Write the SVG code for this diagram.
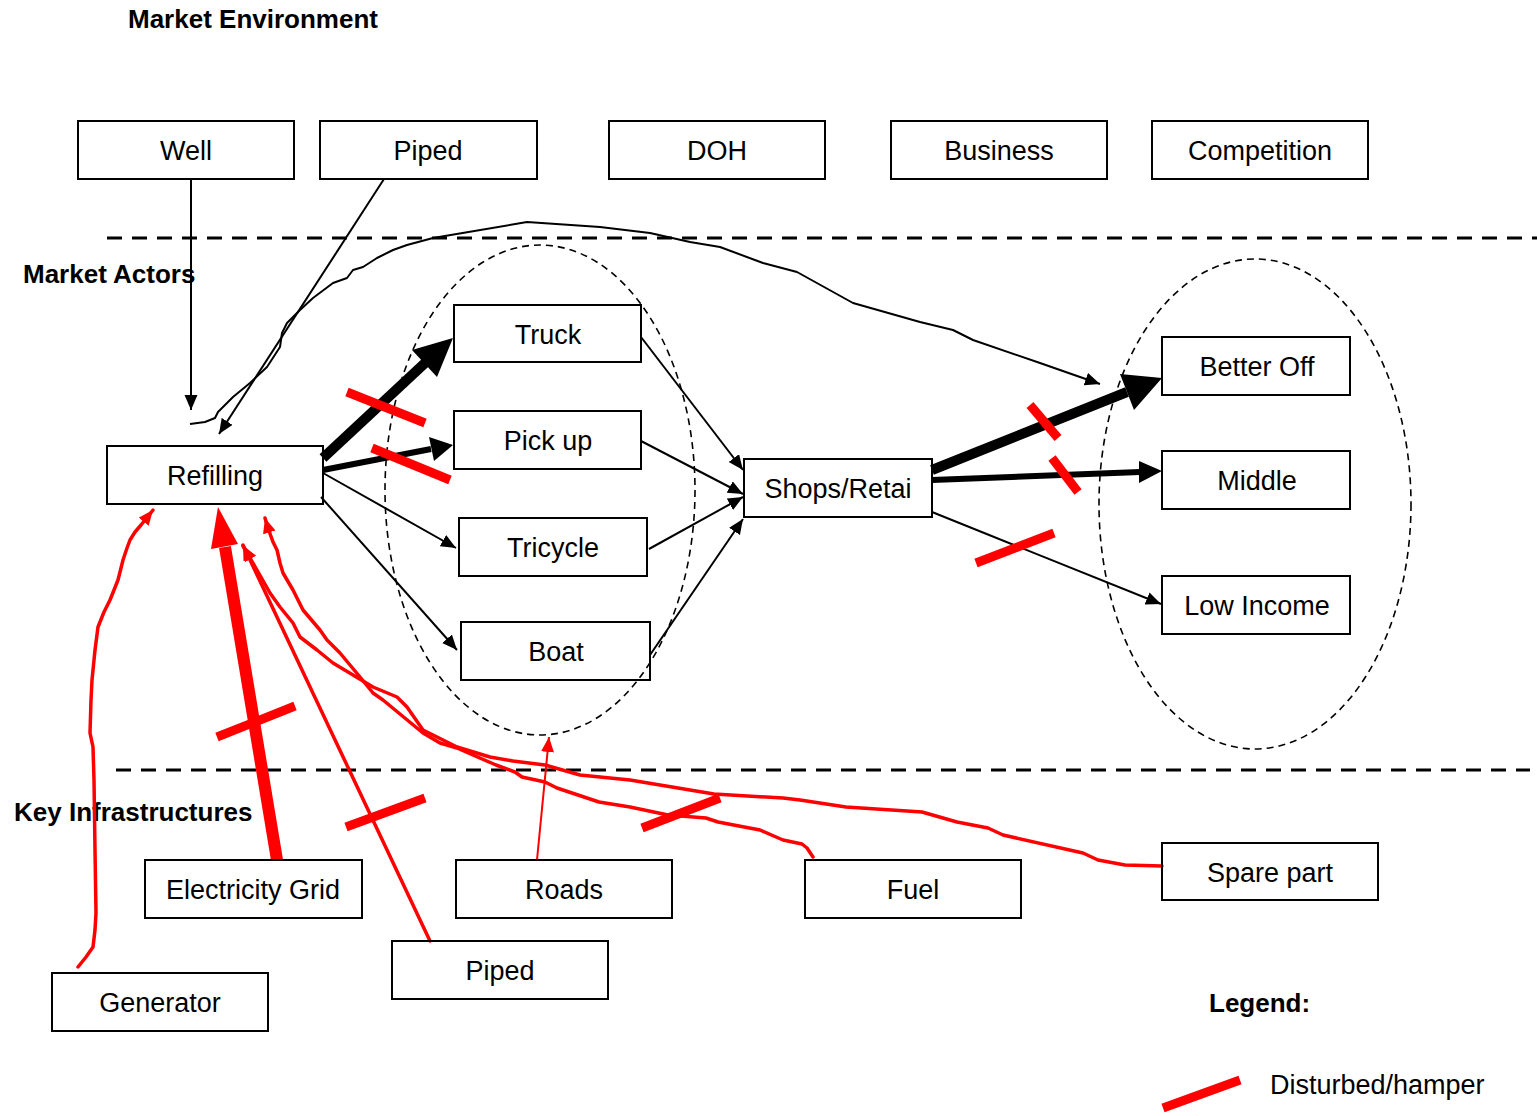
<svg xmlns="http://www.w3.org/2000/svg" width="1537" height="1116" viewBox="0 0 1537 1116">
<style>
.box{fill:none;stroke:#000;stroke-width:2}
.lbl{font-family:"Liberation Sans",Arial,sans-serif;font-size:27px;fill:#000;text-anchor:middle}
.title{font-family:"Liberation Sans",Arial,sans-serif;font-size:26px;font-weight:bold;fill:#000}
.sep{stroke:#000;stroke-width:3;stroke-dasharray:15,10;fill:none}
.ell{fill:none;stroke:#000;stroke-width:1.6;stroke-dasharray:7,5}
.thin{stroke:#000;stroke-width:2;fill:none;marker-end:url(#ah)}
.rc{stroke:#f00;stroke-width:3.5;fill:none;stroke-linejoin:round;stroke-linecap:round}
.mark{stroke:#f00;stroke-width:9;fill:none}
</style>
<defs>
<marker id="ah" markerUnits="userSpaceOnUse" markerWidth="16" markerHeight="14" refX="15" refY="6.5" orient="auto"><path d="M0,0 L15,6.5 L0,13 z" fill="#000"/></marker>
<marker id="rh" markerUnits="userSpaceOnUse" markerWidth="16" markerHeight="14" refX="15" refY="6.5" orient="auto"><path d="M0,0 L15,6.5 L0,13 z" fill="#f00"/></marker>
</defs>
<rect width="1537" height="1116" fill="#fff"/>

<g id="titles">
<text class="title" x="128" y="28">Market Environment</text>
<text class="title" x="23" y="283">Market Actors</text>
<text class="title" x="14" y="821">Key Infrastructures</text>
</g>

<g id="separators">
<line class="sep" x1="107" y1="238" x2="1537" y2="238"/>
<line class="sep" x1="116" y1="770" x2="1530" y2="770"/>
<ellipse class="ell" cx="540" cy="490" rx="155" ry="245"/>
<ellipse class="ell" cx="1255" cy="504" rx="156" ry="245"/>
</g>

<g id="connectors">
<line class="thin" x1="191" y1="179" x2="191" y2="410"/>
<line class="thin" x1="384" y1="179" x2="219" y2="434"/>
<path class="thin" stroke-linejoin="round" d="M190,424 L205,422 L215,418 L218,412 L233,397 L250,383 L267,367 L280,347 L282,333 L287,323 L300,310 L313,298 L333,283 L347,278 L353,270 L363,267 L377,258 L393,250 L407,245 L433,238 L527,222 L600,227 L650,233 L690,242 L720,247 L763,263 L797,272 L853,303 L920,322 L953,330 L973,340 L1040,363 L1100,384"/>
<path d="M323,458 L425,363" stroke="#000" stroke-width="10" fill="none"/>
<polygon points="453,338 412,350 437,377" fill="#000"/>
<path d="M323,470 L431,449" stroke="#000" stroke-width="6" fill="none"/>
<polygon points="453,445 429,437 434,461" fill="#000"/>
<line class="thin" x1="323" y1="473" x2="456" y2="548"/>
<line class="thin" x1="321" y1="497" x2="457" y2="650"/>
<line class="thin" x1="641" y1="337" x2="743" y2="470"/>
<line class="thin" x1="641" y1="441" x2="743" y2="494"/>
<line class="thin" x1="649" y1="549" x2="743" y2="497"/>
<line class="thin" x1="650" y1="655" x2="743" y2="519"/>
<path d="M932,470 L1127,392" stroke="#000" stroke-width="10" fill="none"/>
<polygon points="1162,378 1134,410 1120,374" fill="#000"/>
<path d="M932,480 L1140,472" stroke="#000" stroke-width="6" fill="none"/>
<polygon points="1162,471 1139,483 1139,461" fill="#000"/>
<line class="thin" x1="932" y1="512" x2="1161" y2="604"/>

<path d="M277,860 L225,547" stroke="#f00" stroke-width="12" fill="none"/>
<polygon points="218,507 238,544 211,549" fill="#f00"/>
<path class="rc" marker-end="url(#rh)" d="M78,967 L86,957 L93,947 L95,930 L96,913 L95,850 L94,780 L93,747 L90,733 L91,700 L92,680 L95,650 L98,627 L104,612 L110,600 L118,580 L123,560 L127,548 L130,540 L135,532 L141,525 L153,510"/>
<path class="rc" marker-end="url(#rh)" d="M430,941 L243,545"/>
<path d="M537,860 L549,737" stroke="#f00" stroke-width="2" fill="none" marker-end="url(#rh)"/>
<path class="rc" marker-end="url(#rh)" d="M1162,866 L1125,865 L1098,860 L1083,853 L1003,835 L988,828 L957,822 L922,812 L846,807 L800,800 L783,798 L714,794 L630,780 L580,775 L545,765 L513,761 L490,757 L457,747 L423,730 L407,707 L397,697 L373,687 L333,663 L317,650 L300,637 L293,623 L280,607 L270,593 L253,563 L243,546"/>
<path class="rc" marker-end="url(#rh)" d="M813,857 L807,848 L802,844 L783,840 L760,830 L718,822 L706,818 L668,815 L630,807 L599,802 L557,788 L545,782 L522,777 L515,772 L496,765 L457,748 L440,743 L423,733 L383,700 L373,693 L360,677 L340,653 L327,640 L320,630 L303,610 L293,590 L283,573 L280,563 L277,550 L273,542 L268,528 L265,518"/>
</g>

<g id="disturbances">
<line class="mark" x1="347" y1="392" x2="425" y2="423"/>
<line class="mark" x1="372" y1="448" x2="450" y2="480"/>
<line class="mark" x1="1030" y1="405" x2="1058" y2="438"/>
<line class="mark" x1="1052" y1="458" x2="1078" y2="492"/>
<line class="mark" x1="976" y1="563" x2="1054" y2="533"/>
<line class="mark" x1="217" y1="737" x2="295" y2="706"/>
<line class="mark" x1="346" y1="827" x2="425" y2="798"/>
<line class="mark" x1="642" y1="828" x2="720" y2="798"/>
</g>

<g id="n-well"><rect class="box" x="78" y="121" width="216" height="58"/><text class="lbl" x="186" y="159.5">Well</text></g>
<g id="n-piped-env"><rect class="box" x="320" y="121" width="217" height="58"/><text class="lbl" x="428" y="159.5">Piped</text></g>
<g id="n-doh"><rect class="box" x="609" y="121" width="216" height="58"/><text class="lbl" x="717" y="159.5">DOH</text></g>
<g id="n-business"><rect class="box" x="891" y="121" width="216" height="58"/><text class="lbl" x="999" y="159.5">Business</text></g>
<g id="n-competition"><rect class="box" x="1152" y="121" width="216" height="58"/><text class="lbl" x="1260" y="159.5">Competition</text></g>
<g id="n-refilling"><rect class="box" x="107" y="446" width="216" height="58"/><text class="lbl" x="215" y="484.5">Refilling</text></g>
<g id="n-truck"><rect class="box" x="454" y="305" width="187" height="57"/><text class="lbl" x="548" y="343.5">Truck</text></g>
<g id="n-pickup"><rect class="box" x="454" y="411" width="187" height="58"/><text class="lbl" x="548" y="449.5">Pick up</text></g>
<g id="n-tricycle"><rect class="box" x="459" y="518" width="188" height="58"/><text class="lbl" x="553" y="556.5">Tricycle</text></g>
<g id="n-boat"><rect class="box" x="461" y="622" width="189" height="58"/><text class="lbl" x="556" y="660.5">Boat</text></g>
<g id="n-shops"><rect class="box" x="744" y="459" width="188" height="58"/><text class="lbl" x="838" y="497.5">Shops/Retai</text></g>
<g id="n-betteroff"><rect class="box" x="1162" y="337" width="188" height="58"/><text class="lbl" x="1257" y="375.5">Better Off</text></g>
<g id="n-middle"><rect class="box" x="1162" y="451" width="188" height="58"/><text class="lbl" x="1257" y="489.5">Middle</text></g>
<g id="n-lowincome"><rect class="box" x="1162" y="576" width="188" height="58"/><text class="lbl" x="1257" y="614.5">Low Income</text></g>
<g id="n-electricity"><rect class="box" x="145" y="860" width="217" height="58"/><text class="lbl" x="253" y="898.5">Electricity Grid</text></g>
<g id="n-roads"><rect class="box" x="456" y="860" width="216" height="58"/><text class="lbl" x="564" y="898.5">Roads</text></g>
<g id="n-fuel"><rect class="box" x="805" y="860" width="216" height="58"/><text class="lbl" x="913" y="898.5">Fuel</text></g>
<g id="n-sparepart"><rect class="box" x="1162" y="843" width="216" height="57"/><text class="lbl" x="1270" y="881.5">Spare part</text></g>
<g id="n-piped-infra"><rect class="box" x="392" y="941" width="216" height="58"/><text class="lbl" x="500" y="979.5">Piped</text></g>
<g id="n-generator"><rect class="box" x="52" y="973" width="216" height="58"/><text class="lbl" x="160" y="1011.5">Generator</text></g>

<g id="legend">
<text class="title" x="1209" y="1012">Legend:</text>
<line class="mark" x1="1163" y1="1108" x2="1240" y2="1080"/>
<text class="title" style="font-weight:normal;font-size:27px" x="1270" y="1094">Disturbed/hamper</text>
</g>
</svg>
